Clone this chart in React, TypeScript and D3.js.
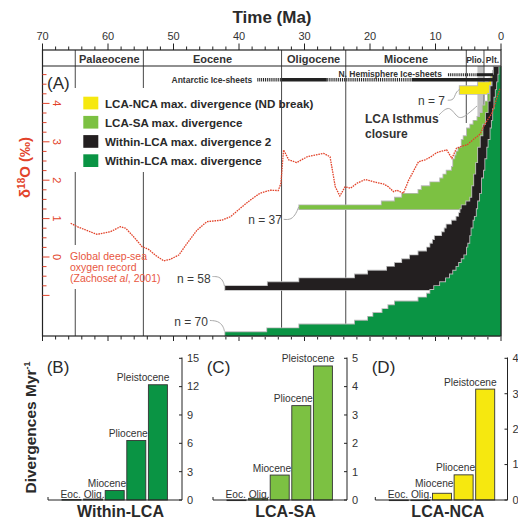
import * as d3 from "d3";

const FONT = "'Liberation Sans', Arial, Helvetica, sans-serif";
const INK = "#2a2a2a";
const RED = "#e2432a";
const LEADER = "#a8a8a8";
const YELLOW = "#f6e80f";
const LIGHT = "#7cc142";
const BLACK = "#231f20";
const GREEN = "#0a9444";

// time axis (Ma)
const timeTicks = [70, 60, 50, 40, 30, 20, 10, 0];
const epochNames = ["Palaeocene", "Eocene", "Oligocene", "Miocene", "Plio.", "Plt."];
const epochBounds = [65.0, 54.6, 33.5, 23.7, 5.3, 2.6, 0];

// global deep-sea oxygen record (Zachos et al. 2001), per mil
const o18Ages = [65.7, 64.7, 61.7, 59.6, 58.1, 57.3, 56.1, 54.8, 53.8, 52.8, 51.5, 50.5, 49.2, 47.9, 46.4, 44.9, 42.6, 41.3, 39.8, 38.3, 36.8, 35.2, 34.0, 33.6, 33.2, 32.4, 31.2, 29.6, 27.1, 26.1, 25.3, 24.6, 23.8, 23.0, 22.0, 20.7, 19.5, 17.9, 17.2, 16.4, 15.9, 14.9, 14.1, 12.6, 11.6, 10.8, 9.8, 8.3, 7.5, 6.8, 5.7, 5.2, 4.0, 3.2, 2.4, 1.4, 0.4, 0.1];
const o18Values = [0.88, 0.79, 0.59, 0.66, 0.79, 0.75, 0.53, 0.27, 0.2, 0.05, -0.1, -0.06, 0.05, 0.36, 0.7, 0.92, 0.96, 1.05, 1.27, 1.48, 1.66, 1.74, 1.73, 1.92, 2.79, 2.53, 2.46, 2.61, 2.7, 2.61, 1.83, 1.59, 1.83, 1.79, 1.92, 2.02, 1.96, 1.9, 1.83, 1.7, 1.74, 1.66, 2.0, 2.48, 2.53, 2.6, 2.72, 2.79, 2.57, 2.83, 2.9, 2.92, 3.09, 3.2, 3.48, 3.74, 4.26, 4.4];
const o18Labels = [4, 3, 2, 1, 0];

const isthmusAges = [3.6, 2.7];

// ice-sheet bars [from, to] (Ma)
const antarcticHatched = [[37.2, 33.5], [26.6, 13.6]];
const antarcticSolid = [[33.5, 26.6], [13.6, 1.2]];
const northHatched = [[8.1, 3.7]];
const northSolid = [[3.7, 1.2]];

// cumulative divergences: [age (Ma), count]
const lcaNcaSteps = [[6.3, 2], [3.5, 3], [1.8, 4], [1.5, 5], [1.2, 6], [0.9, 7]];
const lcaSaSteps = [[30.8, 1], [18.2, 2], [16.2, 3], [15.1, 4], [12.6, 5], [12.1, 6], [10.8, 7], [9.3, 8], [8.8, 9], [8.3, 10], [7.5, 11], [7.3, 13], [7.0, 14], [6.8, 15], [6.5, 16], [6.0, 18], [5.7, 19], [5.2, 21], [4.7, 22], [4.2, 23], [3.6, 24], [3.2, 25], [2.8, 27], [2.4, 28], [2.0, 30], [1.7, 32], [1.4, 34], [1.2, 36], [1.0, 37]];
const withinLca2Steps = [[42.1, 1], [35.6, 2], [30.8, 3], [22.3, 4], [20.3, 5], [17.4, 6], [16.2, 7], [15.1, 8], [13.9, 9], [12.6, 10], [11.3, 11], [10.8, 12], [10.4, 13], [10.1, 14], [9.0, 15], [8.6, 16], [8.3, 17], [7.5, 18], [6.8, 19], [6.4, 20], [6.2, 21], [6.0, 22], [5.3, 23], [4.7, 24], [4.4, 27], [4.1, 30], [3.8, 33], [3.5, 37], [3.1, 40], [2.7, 43], [2.3, 46], [1.9, 49], [1.6, 53], [1.3, 56], [1.1, 58]];
const withinLcaSteps = [[42.1, 1], [35.7, 2], [30.8, 3], [22.3, 4], [20.3, 5], [19.5, 6], [18.1, 7], [17.2, 8], [16.2, 9], [12.6, 10], [11.3, 11], [10.8, 12], [10.2, 13], [9.3, 14], [8.4, 15], [7.8, 16], [7.3, 17], [6.8, 18], [6.4, 19], [6.0, 20], [5.6, 21], [5.2, 23], [5.0, 24], [4.7, 26], [4.5, 28], [4.2, 30], [4.0, 31], [3.7, 33], [3.5, 35], [3.2, 37], [2.9, 41], [2.6, 43], [2.4, 46], [2.1, 49], [1.9, 51], [1.6, 54], [1.4, 56], [1.2, 59], [1.0, 62], [0.8, 64], [0.6, 66], [0.4, 68], [0.25, 70]];

const legendLabels = ["LCA-NCA max. divergence (ND break)", "LCA-SA max. divergence", "Within-LCA max. divergence 2", "Within-LCA max. divergence"];
const legendColors = [YELLOW, LIGHT, BLACK, GREEN];

// divergence rates per epoch (Myr^-1)
const periods = ["Eoc.", "Olig.", "Miocene", "Pliocene", "Pleistocene"];
const barLabels = ["", "Eoc. Olig.", "Miocene", "Pliocene", "Pleistocene"];
const withinLcaRates = [0.05, 0.1, 1.0, 6.3, 12.2];
const lcaSaRates = [0.0, 0.06, 0.88, 3.33, 4.73];
const lcaNcaRates = [0.0, 0.0, 0.19, 0.71, 3.13];

const L = 42.5, R = 501, TOP = 50, EPOCH_B = 66, BOT = 336;
const STEP_TOP = 67;
const STEP = (BOT - STEP_TOP) / 70;

const x = d3.scaleLinear().domain([70, 0]).range([L, R]);
const yO = d3.scaleLinear().domain([0, 4]).range([257, 103.4]);
const countScale = (n) => d3.scaleLinear().domain([0, n]).range([STEP_TOP + n * STEP, STEP_TOP]);

function Staircase({ steps, n, color }) {
  const yc = countScale(n);
  const area = d3.area()
    .curve(d3.curveStepAfter)
    .x((d) => x(d[0]))
    .y0(yc(0))
    .y1((d) => yc(d[1]));
  const d = area([...steps, [0, n]]);
  return (
    <g>
      <path d={d} fill="none" stroke="#b9b9b9" strokeWidth={1.8} />
      <path d={d} fill={color} />
    </g>
  );
}

const leader = d3.line().curve(d3.curveBasis);

function NLabel({ steps, n, dx, dy, pts }) {
  const yc = countScale(n);
  const ax = x(steps[0][0]), ay = yc(steps[0][1]);
  return (
    <g>
      <path d={leader(pts.map(([px, py]) => [ax + px, ay + py]))} fill="none" stroke={LEADER} strokeWidth={1} />
      <text x={ax + dx} y={ay + dy} textAnchor="end" fontSize={12} fill="#3a3a3a">n = {n}</text>
    </g>
  );
}

function RatePanel({ x0, width, values, max, ticks, color, letter, letterX, title }) {
  const band = d3.scaleBand().domain(periods).range([x0 + 12.7, x0 + 120.7]).paddingInner(0.12).paddingOuter(0.06);
  const y = d3.scaleLinear().domain([0, max]).range([500, 358.3]);
  const ax = x0 + width;
  return (
    <g>
      <text x={letterX} y={373} fontSize={17} fill={INK}>{letter}</text>
      {periods.map((p, i) => (
        <rect key={p} x={band(p)} y={y(values[i])} width={band.bandwidth()} height={Math.max(0.6, y(0) - y(values[i]))}
          fill={color} stroke="#333" strokeWidth={0.9} />
      ))}
      {periods.map((p, i) => barLabels[i] ? (
        <text key={p} x={band(p) + band.bandwidth() + 2} y={i === 1 ? 497.8 : Math.min(y(values[i]) - 3.5, 486.5)}
          textAnchor="end" fontSize={10.2} fill="#333">{barLabels[i]}</text>
      ) : null)}
      <line x1={x0} x2={ax} y1={500} y2={500} stroke="#222" strokeWidth={1} />
      <line x1={x0} x2={x0} y1={500} y2={497} stroke="#222" strokeWidth={1} />
      <line x1={ax} x2={ax} y1={357.5} y2={500} stroke="#222" strokeWidth={1} />
      {ticks.map((t) => (
        <g key={t}>
          <line x1={ax - 3} x2={ax} y1={y(t)} y2={y(t)} stroke="#222" strokeWidth={1} />
          <text x={ax + 5} y={y(t)} dy="0.35em" fontSize={11} fill="#333">{t}</text>
        </g>
      ))}
      <text x={x0 + 72.5} y={516.5} textAnchor="middle" fontSize={16} fontWeight="bold" fill={INK}>{title}</text>
    </g>
  );
}

export default function App() {
  const o18Line = d3.line().x((d) => x(d[0])).y((d) => yO(d[1]));
  const o18Pts = o18Ages.map((a, i) => [a, o18Values[i]]);
  const minorTime = d3.range(70, -1, -2);
  const o18Ticks = d3.range(-1, 4.76, 0.25);

  return (
    <svg width={518} height={520} viewBox="0 0 518 520"
      style={{ position: "absolute", left: 0, top: 0, background: "#fff", fontFamily: FONT }}>
      <rect width={518} height={520} fill="#fff" />

      {/* title and top axis */}
      <text x={272} y={23} textAnchor="middle" fontSize={17} fontWeight="bold" fill={INK}>Time (Ma)</text>
      {minorTime.map((t) => (
        <line key={"tt" + t} x1={x(t)} x2={x(t)} y1={TOP} y2={TOP - (t % 10 === 0 ? 6.5 : 3.5)} stroke="#222" strokeWidth={1} />
      ))}
      {minorTime.map((t) => (
        <line key={"bt" + t} x1={x(t)} x2={x(t)} y1={BOT} y2={BOT + (t % 10 === 0 ? 5 : 3.5)} stroke="#222" strokeWidth={1} />
      ))}
      {timeTicks.map((t) => (
        <text key={t} x={x(t)} y={40} textAnchor="middle" fontSize={11} fill="#333">{t}</text>
      ))}

      {/* isthmus closure band */}
      <rect x={x(isthmusAges[0])} y={EPOCH_B} width={x(isthmusAges[1]) - x(isthmusAges[0])} height={52} fill="#c4c4c4" />

      {/* epoch boundaries */}
      {epochBounds.slice(0, 4).map((b) => (
        <line key={b} x1={x(b)} x2={x(b)} y1={TOP} y2={BOT} stroke="#333" strokeWidth={0.9} />
      ))}
      {epochBounds.slice(4, 6).map((b) => (
        <line key={b} x1={x(b)} x2={x(b)} y1={TOP} y2={123} stroke="#333" strokeWidth={0.9} />
      ))}

      {/* cumulative divergences */}
      <Staircase steps={lcaNcaSteps} n={7} color={YELLOW} />
      <Staircase steps={lcaSaSteps} n={37} color={LIGHT} />
      <Staircase steps={withinLca2Steps} n={58} color={BLACK} />
      <Staircase steps={withinLcaSteps} n={70} color={GREEN} />

      {/* oxygen isotope curve */}
      <path d={o18Line(o18Pts)} fill="none" stroke={RED} strokeWidth={1.3} strokeDasharray="1.6 0.9" />

      {/* legend */}
      <rect x={66} y={88} width={212} height={84} fill="#fff" />
      {legendLabels.map((lab, i) => (
        <g key={lab}>
          <rect x={83.3} y={96.7 + i * 19.2} width={15} height={12.7} fill={legendColors[i]} />
          <text x={105} y={96.7 + i * 19.2 + 10.8} fontSize={11.6} fontWeight="bold" fill={INK}>{lab}</text>
        </g>
      ))}

      {/* record caption */}
      <rect x={68} y={245} width={72} height={44} fill="#fff" />
      <g fontSize={10.5} fill="#e8573f">
        <text x={70} y={260}>Global deep-sea</text>
        <text x={70} y={271}>oxygen record</text>
        <text x={70} y={282}>(Zachos<tspan fontStyle="italic">et al</tspan>, 2001)</text>
      </g>

      {/* n labels */}
      <NLabel steps={lcaNcaSteps} n={7} dx={-14.7} dy={19}
        pts={[[-12, 14], [-6, 14], [-4, 6], [0, 3]]} />
      <NLabel steps={lcaSaSteps} n={37} dx={-17.4} dy={18.6}
        pts={[[-15.6, 14], [-8, 14.5], [-3, 8], [-0.6, 1.6]]} />
      <NLabel steps={withinLca2Steps} n={58} dx={-14.6} dy={-3}
        pts={[[-12.8, -9.5], [-6, -9.5], [-2, -5], [-0.8, 0]]} />
      <NLabel steps={withinLcaSteps} n={70} dx={-17.3} dy={-5.7}
        pts={[[-15.3, -11.7], [-7, -11.2], [-2, -6], [-0.8, -1]]} />

      {/* isthmus label */}
      <path d={leader([[439, 115], [450, 104], [458, 121], [468, 114], [477, 106]])} fill="none" stroke={LEADER} strokeWidth={1} />
      <g fontSize={12} fontWeight="bold" fill="#333">
        <text x={365} y={122.5}>LCA Isthmus</text>
        <text x={365} y={137.5}>closure</text>
      </g>

      {/* ice sheets */}
      {antarcticHatched.map(([a, b]) => (
        <line key={"ah" + a} x1={x(a)} x2={x(b)} y1={79.8} y2={79.8} stroke="#222" strokeWidth={3.6} strokeDasharray="1 0.9" />
      ))}
      {antarcticSolid.map(([a, b]) => (
        <line key={"as" + a} x1={x(a)} x2={x(b)} y1={79.8} y2={79.8} stroke="#222" strokeWidth={3.6} />
      ))}
      {northHatched.map(([a, b]) => (
        <line key={"nh" + a} x1={x(a)} x2={x(b)} y1={74.7} y2={74.7} stroke="#222" strokeWidth={3} strokeDasharray="1 0.9" />
      ))}
      {northSolid.map(([a, b]) => (
        <line key={"ns" + a} x1={x(a)} x2={x(b)} y1={74.7} y2={74.7} stroke="#222" strokeWidth={3} />
      ))}
      <g fontSize={8.5} fontWeight="bold" fill="#333" textAnchor="end">
        <text x={x(antarcticHatched[0][0]) - 5} y={82.5}>Antarctic Ice-sheets</text>
        <text x={x(northHatched[0][0]) - 6} y={77}>N. Hemisphere Ice-sheets</text>
      </g>

      {/* frame and epoch row */}
      <rect x={L} y={TOP} width={R - L} height={BOT - TOP} fill="none" stroke="#222" strokeWidth={1.2} />
      <line x1={L} x2={R} y1={EPOCH_B} y2={EPOCH_B} stroke="#222" strokeWidth={1.1} />
      {epochNames.map((name, i) => (
        <text key={name} x={(x(epochBounds[i]) + x(epochBounds[i + 1])) / 2} y={62.5} textAnchor="middle"
          fontSize={i >= 4 ? 8.5 : 11} fontWeight="bold" fill="#333">{name}</text>
      ))}
      <text x={47} y={89} fontSize={17} fill={INK}>(A)</text>

      {/* δ18O axis */}
      {o18Ticks.map((v) => (
        <line key={v} x1={L} x2={L + (Math.abs(v - Math.round(v)) < 1e-6 ? 7 : 4)} y1={yO(v)} y2={yO(v)} stroke={RED} strokeWidth={1} />
      ))}
      {o18Labels.map((v) => (
        <text key={v} transform={`translate(56.5,${yO(v)}) rotate(90)`} textAnchor="middle" dy="0.35em" fontSize={11} fill={RED}>{v}</text>
      ))}
      <text transform="translate(30,167.5) rotate(-90)" textAnchor="middle" fontSize={15} fontWeight="bold" fill={RED}>
        δ<tspan fontSize={10} dy={-5}>18</tspan><tspan dy={5}>O (‰)</tspan>
      </text>

      {/* rate panels */}
      <text transform="translate(36,427.5) rotate(-90)" textAnchor="middle" fontSize={15.5} fontWeight="bold" fill={INK}>
        Divergences Myr<tspan fontSize={9} dy={-6}>-1</tspan>
      </text>
      <RatePanel x0={48} width={134} values={withinLcaRates} max={15} ticks={[0, 3, 6, 9, 12, 15]}
        color={GREEN} letter="(B)" letterX={46.7} title="Within-LCA" />
      <RatePanel x0={213} width={134} values={lcaSaRates} max={5} ticks={[0, 1, 2, 3, 4, 5]}
        color={LIGHT} letter="(C)" letterX={206.7} title="LCA-SA" />
      <RatePanel x0={375.3} width={132.2} values={lcaNcaRates} max={4} ticks={[0, 1, 2, 3, 4]}
        color={YELLOW} letter="(D)" letterX={371.7} title="LCA-NCA" />
    </svg>
  );
}
